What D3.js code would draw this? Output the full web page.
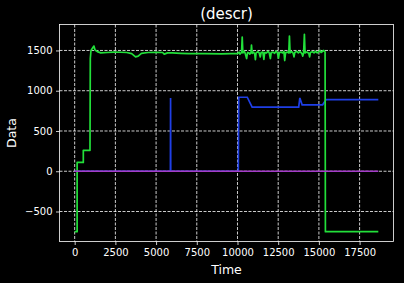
<!DOCTYPE html>
<meta charset="utf-8">
<style>
  body { margin: 0; background: #000; }
  text { font-family: "DejaVu Sans", sans-serif; fill: #fff; }
</style>
<svg width="404" height="283"></svg>
<script src="https://d3js.org/d3.v7.min.js"></script>
<script>

// series: [time, value]
var greenData = [
  [0,-750],[150,-750],[150,110],[530,110],[530,260],[940,260],[960,1400],[1000,1500],
  [1100,1530],[1180,1555],[1250,1505],[1390,1485],[1600,1470],[2000,1475],[2400,1480],
  [2800,1478],[3200,1475],[3500,1460],[3740,1420],[3900,1430],[4100,1465],[4500,1475],
  [5000,1478],[5400,1475],[5500,1455],[5700,1470],[6000,1470],[6500,1465],[7000,1462],
  [8000,1460],[9000,1458],[9600,1460],[10000,1462],
  [10100,1480],[10150,1455],[10250,1475],[10290,1666],[10330,1470],[10420,1490],[10480,1460],
  [10560,1400],[10620,1475],[10700,1470],[10760,1455],[10830,1475],[10860,1568],[10900,1465],
  [10980,1480],[11060,1455],[11100,1385],[11140,1470],[11250,1485],[11330,1470],[11400,1420],
  [11450,1475],[11560,1480],[11620,1390],[11670,1475],[11780,1470],[11880,1490],[11950,1470],
  [12020,1400],[12070,1475],[12180,1480],[12280,1465],[12380,1495],[12450,1470],[12520,1405],
  [12570,1475],[12680,1480],[12780,1470],[12850,1490],[12900,1375],[12950,1470],[13060,1480],
  [13150,1470],[13190,1679],[13230,1470],[13330,1485],[13420,1465],[13470,1420],[13520,1475],
  [13640,1490],[13740,1470],[13840,1485],[13950,1465],[14010,1430],[14060,1470],[14110,1700],
  [14150,1470],[14260,1480],[14380,1465],[14430,1420],[14480,1475],[14600,1485],[14700,1470],
  [14800,1490],[14900,1470],[15000,1485],[15080,1500],[15130,1475],[15230,1490],[15300,1500],
  [15380,1480],[15400,-750],[18650,-750]
];

var blueData = [
  [0,0],[5880,0],[5890,910],[5900,0],[10050,0],[10080,919],[10600,919],[10900,796],
  [13760,796],[13830,911],[13970,825],[15230,825],[15440,890],[18650,890]
];

var purpleData = [[0,0],[18650,0]];

var xTicks = [0, 2500, 5000, 7500, 10000, 12500, 15000, 17500];
var yTicks = [-500, 0, 500, 1000, 1500];

var svg = d3.select("svg"),
    margin = {top: 24.5, right: 10.5, bottom: 41.5, left: 59.5},
    width = +svg.attr("width") - margin.left - margin.right,
    height = +svg.attr("height") - margin.top - margin.bottom;

svg.append("rect").attr("width", 404).attr("height", 283).attr("fill", "#000");

var all = greenData.concat(blueData, purpleData);
var xExt = d3.extent(all, d => d[0]),
    yExt = d3.extent(all, d => d[1]);
var xPad = (xExt[1] - xExt[0]) * 0.05,
    yPad = (yExt[1] - yExt[0]) * 0.05;

var x = d3.scaleLinear().domain([xExt[0] - xPad, xExt[1] + xPad]).range([0, width]);
var y = d3.scaleLinear().domain([yExt[0] - yPad, yExt[1] + yPad]).range([height, 0]);

var g = svg.append("g").attr("transform", "translate(" + margin.left + "," + margin.top + ")");

// grid
g.append("g").selectAll("line").data(xTicks).enter().append("line")
  .attr("x1", d => x(d)).attr("x2", d => x(d))
  .attr("y1", 0).attr("y2", height)
  .attr("stroke", "#fff").attr("stroke-width", 0.8)
  .attr("stroke-dasharray", "3,1.5");
g.append("g").selectAll("line").data(yTicks).enter().append("line")
  .attr("y1", d => y(d)).attr("y2", d => y(d))
  .attr("x1", 0).attr("x2", width)
  .attr("stroke", "#fff").attr("stroke-width", 0.8)
  .attr("stroke-dasharray", "3,1.5");

var line = d3.line().x(d => x(d[0])).y(d => y(d[1]));

g.append("path").datum(blueData).attr("d", line)
  .attr("fill", "none").attr("stroke", "#1f3fe6").attr("stroke-width", 1.7);
g.append("path").datum(greenData).attr("d", line)
  .attr("fill", "none").attr("stroke", "#22e03a").attr("stroke-width", 1.7)
  .attr("stroke-linejoin", "round");
g.append("path").datum(purpleData).attr("d", line)
  .attr("fill", "none").attr("stroke", "#a43cc8").attr("stroke-width", 1.7);

// axes
var xAxis = g.append("g").attr("transform", "translate(0," + height + ")")
  .call(d3.axisBottom(x).tickValues(xTicks).tickSize(3.5).tickPadding(3.5).tickFormat(d3.format("d")));
var yAxis = g.append("g")
  .call(d3.axisLeft(y).tickValues(yTicks).tickSize(3.5).tickPadding(3.5)
    .tickFormat(d => d < 0 ? "\u2212" + Math.abs(d) : d));

[xAxis, yAxis].forEach(function(a) {
  a.select(".domain").remove();
  a.selectAll("line").attr("stroke", "#fff").attr("stroke-width", 0.8);
  a.selectAll("text").attr("fill", "#fff").style("font-size", "10px");
});

g.append("rect").attr("width", width).attr("height", height)
  .attr("fill", "none").attr("stroke", "#fff").attr("stroke-width", 0.8);

svg.append("text").attr("x", margin.left + width / 2).attr("y", 19)
  .attr("text-anchor", "middle").style("font-size", "15px").text("(descr)");
svg.append("text").attr("x", margin.left + width / 2).attr("y", 274)
  .attr("text-anchor", "middle").style("font-size", "12.5px").text("Time");
svg.append("text").attr("transform", "translate(16," + (margin.top + height / 2) + ") rotate(-90)")
  .attr("text-anchor", "middle").style("font-size", "12.5px").text("Data");

</script>
